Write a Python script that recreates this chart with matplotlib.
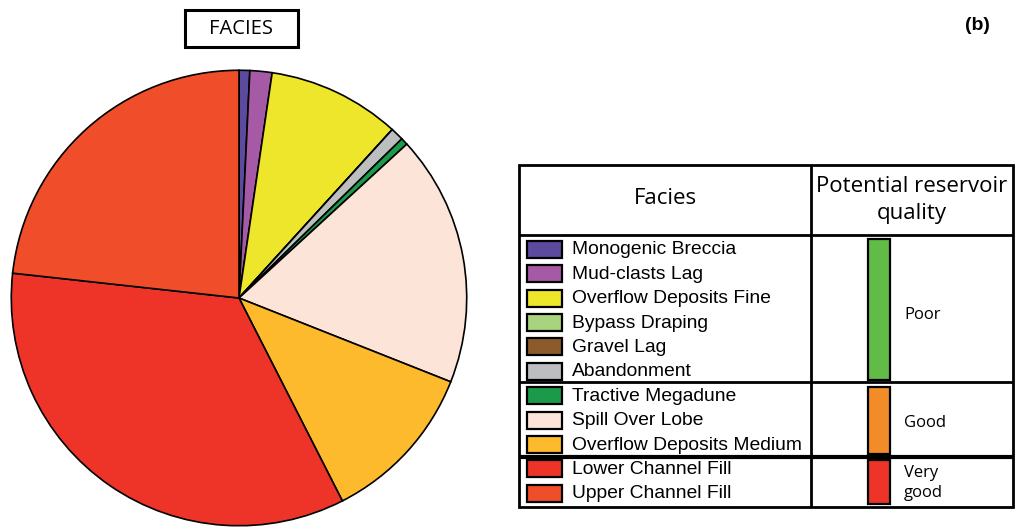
import matplotlib
matplotlib.use("Agg")
import matplotlib.pyplot as plt
from matplotlib.patches import Rectangle

# Facies shares (percent of total), in clockwise order from 12 o'clock
facies = [
    "Monogenic Breccia", "Mud-clasts Lag", "Overflow Deposits Fine",
    "Bypass Draping", "Gravel Lag", "Abandonment", "Tractive Megadune",
    "Spill Over Lobe", "Overflow Deposits Medium",
    "Lower Channel Fill", "Upper Channel Fill",
]
shares = [0.76, 1.57, 9.42, 0.0, 0.0, 0.93, 0.51, 17.81, 11.50, 34.24, 23.26]
colors = [
    "#5B4A9E", "#A65AA6", "#EDE62B", "#A9D47F", "#8C5A2B", "#BCBEC0",
    "#1B9A4A", "#FDE4D8", "#FDBA2D", "#EE3429", "#F04E2B",
]

# Reservoir-quality groups: label, number of facies rows, bar colour
quality_labels = ["Poor", "Good", "Very\ngood"]
quality_counts = [6, 3, 2]
quality_colors = ["#62BB46", "#F28C28", "#EE3429"]

W, H = 1020, 528
fig = plt.figure(figsize=(W / 100, H / 100), dpi=100)

# ---- pie ----
cx, cy, r = 239, 298, 230
pie_ax = fig.add_axes([(cx - r) / W, (H - cy - r) / H, 2 * r / W, 2 * r / H])
pie_ax.pie(shares, colors=colors, startangle=90, counterclock=False,
           radius=1.0,
           wedgeprops=dict(edgecolor="black", linewidth=1.2))
pie_ax.set_xlim(-1.01, 1.01)
pie_ax.set_ylim(-1.01, 1.01)
pie_ax.set_aspect("equal")
pie_ax.axis("off")

# ---- overlay in pixel coordinates ----
ov = fig.add_axes([0, 0, 1, 1])
ov.set_xlim(0, W)
ov.set_ylim(H, 0)
ov.axis("off")
ov.set_zorder(-1)
ov.patch.set_alpha(0)

hdr_font = "Open Sans"
txt_font = "Liberation Sans"

# title box
ov.add_patch(Rectangle((185, 9.5), 113, 37, fill=False, lw=2.2, ec="black"))
ov.text(241.5, 28.5, "FACIES", ha="center", va="center", fontsize=14.5,
        family=hdr_font)
ov.text(977, 25, "(b)", ha="center", va="center", fontsize=14,
        family=txt_font, weight="bold")

# table frame
left, right, top, bottom = 519, 1013, 164.5, 507
col = 811
header_bot = 235
row_h = 24.4
first_row = 249.3
lw = 2.0
ov.add_patch(Rectangle((left, top), right - left, bottom - top,
                       fill=False, lw=lw, ec="black"))
ov.plot([col, col], [top, bottom], color="black", lw=lw,
        solid_capstyle="butt")
ov.plot([left, right], [header_bot, header_bot], color="black", lw=lw,
        solid_capstyle="butt")

ov.text((left + col) / 2, 198, "Facies", ha="center", va="center",
        fontsize=16, family=hdr_font)
ov.text((col + right) / 2, 187, "Potential reservoir", ha="center",
        va="center", fontsize=16, family=hdr_font)
ov.text((col + right) / 2, 214, "quality", ha="center",
        va="center", fontsize=16, family=hdr_font)

# facies rows
for i, (name, c) in enumerate(zip(facies, colors)):
    y = first_row + i * row_h
    ov.add_patch(Rectangle((527, y - 8.5), 35.5, 17, fc=c, ec="black",
                           lw=1.6))
    ov.text(572, y + 0.5, name, ha="left", va="center", fontsize=13.9,
            family=txt_font)

# quality groups
sep_lines = [381.7, 456.7]
bar_spans = [(238.5, 380), (386.5, 453.5), (459.5, 504)]
label_pos = [(904, 315), (904, 423), (904, 483)]
for i in range(len(quality_labels)):
    if i < len(sep_lines):
        ov.plot([left, right], [sep_lines[i], sep_lines[i]], color="black",
                lw=lw if i == 0 else 3.0, solid_capstyle="butt")
    y0, y1 = bar_spans[i]
    ov.add_patch(Rectangle((868.5, y0), 21.5, y1 - y0,
                           fc=quality_colors[i], ec="black", lw=1.6))
    ov.text(label_pos[i][0], label_pos[i][1], quality_labels[i], ha="left",
            va="center", fontsize=12, family=hdr_font, linespacing=1.3)

fig.savefig("out.png", dpi=100)
